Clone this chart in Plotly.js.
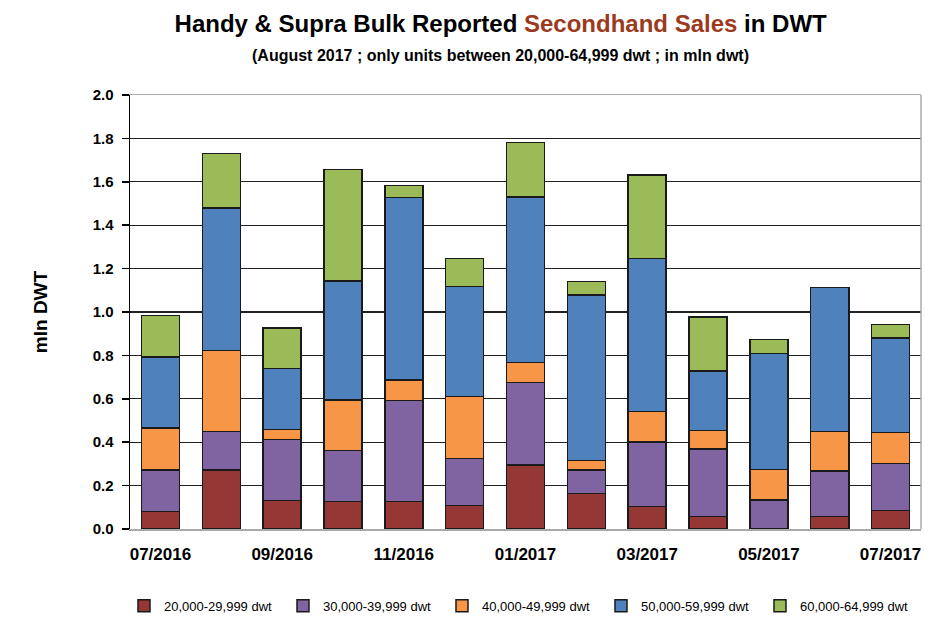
<!DOCTYPE html>
<html>
<head>
<meta charset="utf-8">
<script src="https://cdn.plot.ly/plotly-3.0.1.min.js"></script>
<style>html,body{margin:0;padding:0;background:#fff;}#chart{width:950px;height:634px;}</style>
</head>
<body>
<div id="chart"></div>
<script>
const months = ["07/2016","08/2016","09/2016","10/2016","11/2016","12/2016","01/2017","02/2017","03/2017","04/2017","05/2017","06/2017","07/2017"];
const tickLabels = ["07/2016","09/2016","11/2016","01/2017","03/2017","05/2017","07/2017"];
const seriesNames = ["20,000-29,999 dwt","30,000-39,999 dwt","40,000-49,999 dwt","50,000-59,999 dwt","60,000-64,999 dwt"];
const dwt20 = [0.080,0.273,0.132,0.126,0.126,0.109,0.296,0.163,0.104,0.057,0.000,0.057,0.086];
const dwt30 = [0.193,0.176,0.281,0.235,0.467,0.217,0.378,0.110,0.298,0.312,0.134,0.210,0.217];
const dwt40 = [0.192,0.373,0.046,0.233,0.094,0.285,0.094,0.042,0.140,0.086,0.141,0.183,0.141];
const dwt50 = [0.328,0.657,0.281,0.549,0.840,0.507,0.763,0.763,0.704,0.273,0.533,0.664,0.436];
const dwt60 = [0.192,0.252,0.186,0.513,0.057,0.128,0.251,0.063,0.385,0.250,0.066,0.000,0.063];
const colors = ["#953735","#8064a2","#f79646","#4f81bd","#9bbb59"];

const FONT = "'Liberation Sans', Arial, sans-serif";
const allSeries = [dwt20,dwt30,dwt40,dwt50,dwt60];
const traces = allSeries.map((vals,i)=>({
  type:'bar', name:seriesNames[i], x:months, y:vals,
  marker:{color:colors[i], line:{color:'#1a1a1a', width:1.5}}
}));

const layout = {
  width:950, height:634,
  margin:{l:130, r:29, t:95, b:105},
  barmode:'stack', bargap:0.375,
  paper_bgcolor:'#fff', plot_bgcolor:'#fff',
  font:{family:FONT, color:'#000'},
  title:{text:'<b>Handy &amp; Supra Bulk Reported <span style="color:#9c3a1d">Secondhand Sales</span> in DWT</b>',
    x:0.527, xanchor:'center', y:0.963, yanchor:'middle', font:{size:24, family:FONT, color:'#000'}},
  annotations:[{text:'<b>(August 2017 ; only units between 20,000-64,999 dwt ; in mln dwt)</b>', xref:'paper', yref:'paper',
    x:0.469, y:1.0, yshift:40, showarrow:false, xanchor:'center', yanchor:'middle', font:{size:16, family:FONT, color:'#000'}}],
  xaxis:{type:'category', tickmode:'array', tickvals:tickLabels, ticktext:tickLabels.map(t=>'<b>'+t+'</b>'),
    tickfont:{size:17, family:FONT, color:'#000'}, showline:true, linecolor:'#aaa', linewidth:1.5, mirror:true,
    showgrid:false, ticks:'', ticklen:0, ticklabelstandoff:9, fixedrange:true},
  yaxis:{range:[0,2], dtick:0.2, tickformat:'.1f', tickfont:{size:15, family:FONT, color:'#000'},
    tickprefix:'<b>', ticksuffix:'</b>', ticklabelstandoff:5,
    showline:true, linecolor:'#000', linewidth:1.5, ticks:'outside', ticklen:7, tickcolor:'#000', tickwidth:1.5,
    showgrid:true, gridcolor:'#222', gridwidth:1.3, zeroline:false,
    title:{text:'<b>mln DWT</b>', font:{size:19, family:FONT, color:'#000'}, standoff:40}},
  shapes:[{type:'line', xref:'paper', yref:'paper', x0:1, x1:1, y0:0, y1:1, line:{color:'#aaa', width:1.5}}],
  legend:{orientation:'h', xref:'paper', yref:'paper', x:-0.0076, xanchor:'left', y:-0.177, yanchor:'middle', traceorder:'normal',
    font:{size:13, family:FONT, color:'#000'}, itemwidth:30, entrywidth:114, entrywidthmode:'pixels'},
  showlegend:true
};
Plotly.newPlot('chart', traces, layout, {displayModeBar:false, staticPlot:true});
</script>
</body>
</html>
